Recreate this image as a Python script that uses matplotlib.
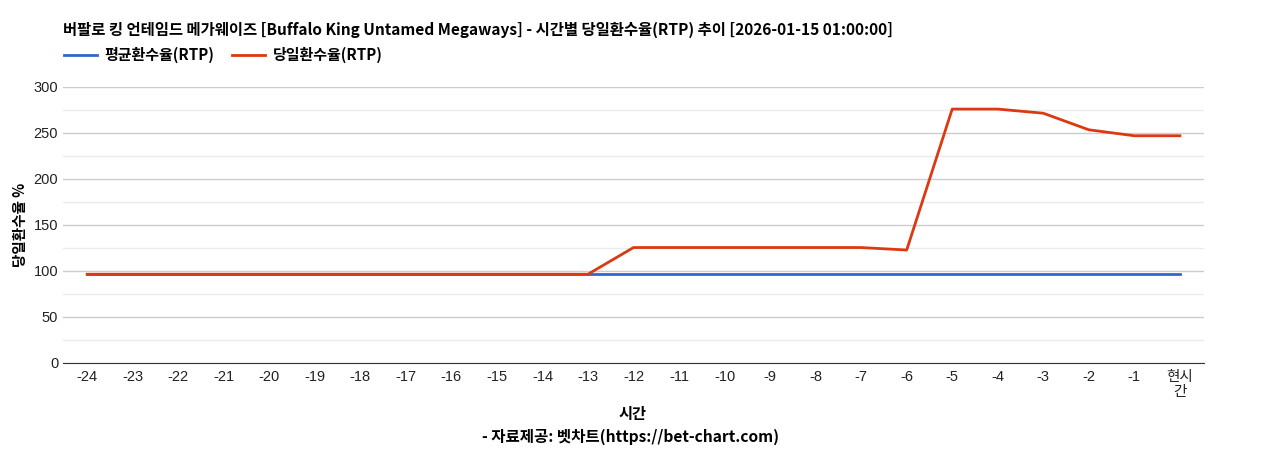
import matplotlib
matplotlib.use("Agg")
import matplotlib.pyplot as plt
import matplotlib.ticker as mticker

plt.rcParams['font.family'] = ['Liberation Sans', 'Noto Sans CJK KR', 'DejaVu Sans']

# ── Données ──────────────────────────────────────────────────────────────────
hours = ["-24", "-23", "-22", "-21", "-20", "-19", "-18", "-17", "-16", "-15",
         "-14", "-13", "-12", "-11", "-10", "-9", "-8", "-7", "-6", "-5",
         "-4", "-3", "-2", "-1", "현시\n간"]
avg_rtp = [96.5] * 25
day_rtp = [96.5, 96.5, 96.5, 96.5, 96.5, 96.5, 96.5, 96.5, 96.5, 96.5,
           96.5, 96.5, 125.5, 125.5, 125.5, 125.5, 125.5, 125.5, 122.8, 276.0,
           276.0, 271.5, 253.5, 247.0, 247.0]

TITLE = "버팔로 킹 언테임드 메가웨이즈 [Buffalo King Untamed Megaways] - 시간별 당일환수율(RTP) 추이 [2026-01-15 01:00:00]"
KR = ['Noto Sans CJK KR', 'DejaVu Sans']

fig = plt.figure(figsize=(12.68, 4.5), dpi=100)
ax = fig.add_axes([63 / 1268, 1 - 363 / 450, (1204 - 63) / 1268, (363 - 87) / 450])

x = range(len(hours))
ax.plot(x, avg_rtp, color="#3366cc", linewidth=2, label="평균환수율(RTP)")
ax.plot(x, day_rtp, color="#dc3912", linewidth=2, label="당일환수율(RTP)")

ax.set_xlim(-0.53, len(hours) - 0.47)
ax.set_ylim(0, 300)
ax.yaxis.set_major_locator(mticker.MultipleLocator(50))
ax.yaxis.set_minor_locator(mticker.MultipleLocator(25))
ax.grid(True, which="major", axis="y", color="#cccccc", linewidth=1)
ax.grid(True, which="minor", axis="y", color="#ebebeb", linewidth=1)
ax.set_axisbelow(True)
ax.set_xticks(list(x))
ax.set_xticklabels(hours, fontsize=10.5, linespacing=1.1)
ax.tick_params(axis="both", length=0, labelsize=10.5, colors="#222222")
ax.tick_params(axis="x", pad=5)
ax.tick_params(axis="y", which="minor", length=0)
for s in ["top", "right", "left"]:
    ax.spines[s].set_visible(False)
ax.spines["bottom"].set_color("#333333")

ax.set_ylabel("당일환수율 %", fontsize=10.5, fontweight="bold", family=KR, labelpad=4)

fig.text(63 / 1268, 1 - 30 / 450, TITLE, fontsize=11.1, fontweight="bold",
         family=KR, va="center", ha="left")
fig.text(633 / 1268, 1 - 414 / 450, "시간", fontsize=11, fontweight="bold",
         family=KR, va="center", ha="center")
fig.text(631 / 1268, 1 - 437 / 450, "- 자료제공: 벳차트(https://bet-chart.com)", fontsize=11.2,
         fontweight="bold", family=KR, va="center", ha="center")

leg = fig.legend(loc="center left", bbox_to_anchor=(50 / 1268, 1 - 55 / 450), ncol=2,
                 frameon=False, prop={"family": KR, "weight": "bold", "size": 10.8},
                 handlelength=2.2, handletextpad=0.5, columnspacing=1.2)

plt.savefig("out.png", dpi=100)
